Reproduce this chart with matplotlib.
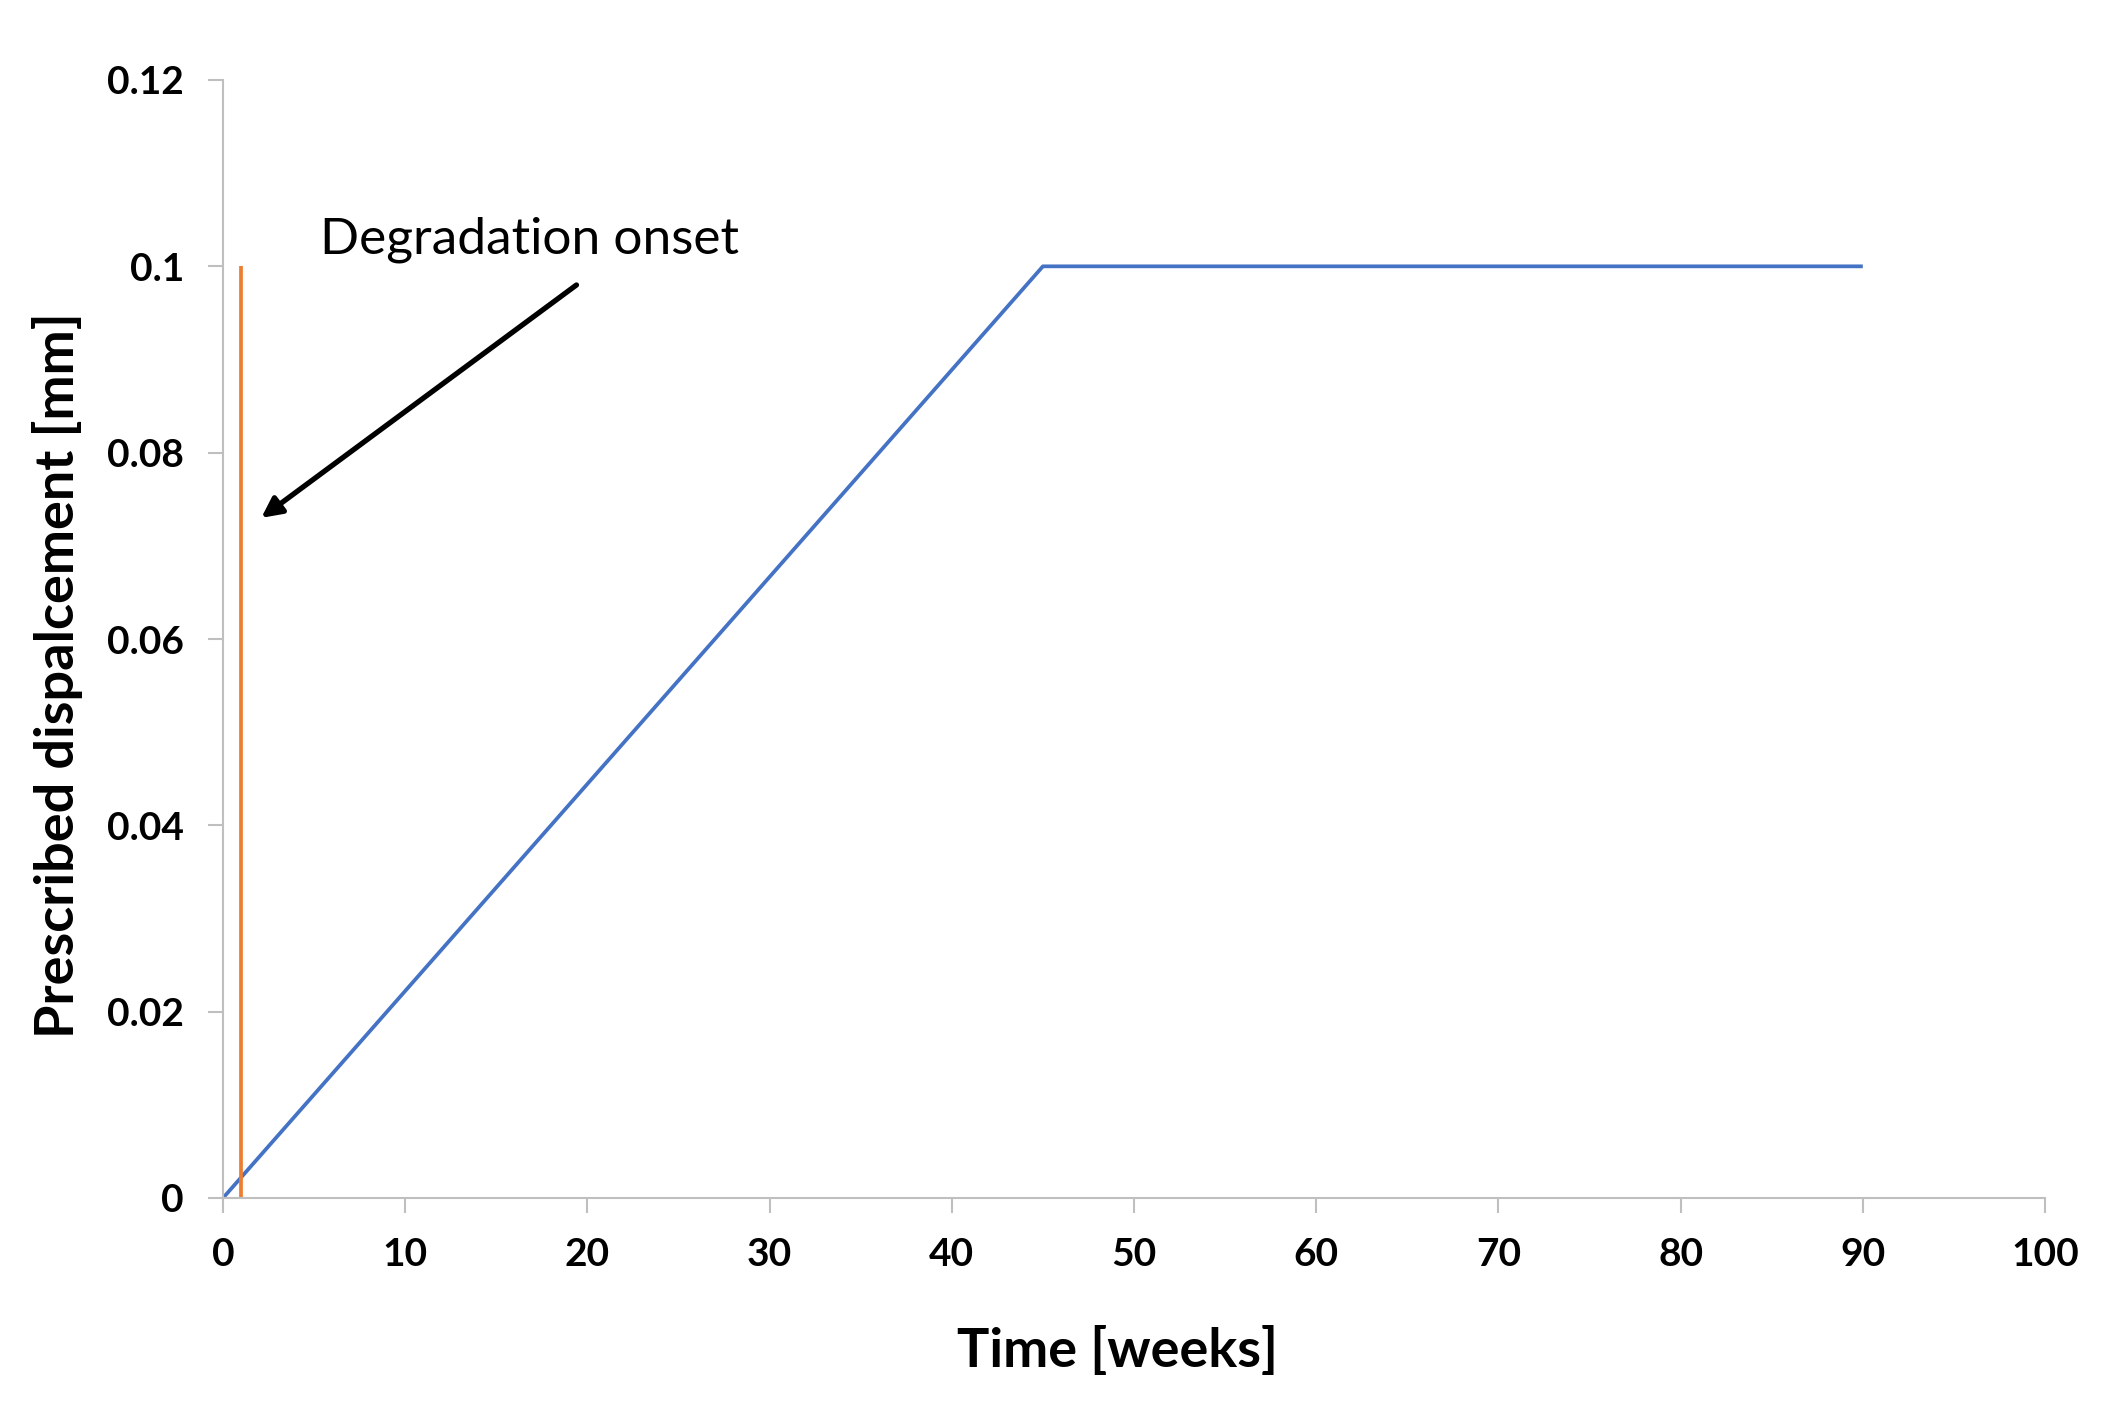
import matplotlib.pyplot as plt
import numpy as np

# prescribed displacement ramp
time_weeks = [0, 45, 90]
displacement = [0, 0.1, 0.1]
# degradation onset marker
onset_x = [1, 1]
onset_y = [0, 0.1]

x_ticks = np.arange(0, 101, 10)
y_ticks = [0, 0.02, 0.04, 0.06, 0.08, 0.1, 0.12]
y_tick_labels = ['0', '0.02', '0.04', '0.06', '0.08', '0.1', '0.12']

plt.rcParams['font.family'] = ['Lato', 'DejaVu Sans']

fig = plt.figure(figsize=(21.25, 14.11), dpi=100)
ax = fig.add_axes([223 / 2125, 1 - 1198 / 1411, 1822 / 2125, 1118 / 1411])

ax.plot(time_weeks, displacement, '-', color='#4472C4', linewidth=2.7, solid_capstyle='butt')
ax.plot(onset_x, onset_y, '-', color='#ED7D31', linewidth=2.7, solid_capstyle='butt')

ax.annotate('', xy=(2.1, 0.073), xytext=(19.4, 0.098),
            arrowprops=dict(arrowstyle='-|>', color='black', lw=3.8,
                            mutation_scale=30, shrinkA=0, shrinkB=0))
ax.text(5.3, 0.1014, 'Degradation onset', fontsize=37, color='black',
        ha='left', va='baseline')

ax.set_xlim(0, 100)
ax.set_ylim(0, 0.12)
ax.set_xticks(x_ticks)
ax.set_yticks(y_ticks)
ax.set_yticklabels(y_tick_labels)

for lab in ax.get_xticklabels() + ax.get_yticklabels():
    lab.set_fontweight('bold')
ax.tick_params(axis='both', labelsize=28, length=11, width=1.5,
               color='#BFBFBF', pad=17)

for side in ['top', 'right']:
    ax.spines[side].set_visible(False)
for side in ['left', 'bottom']:
    ax.spines[side].set_color('#BFBFBF')
    ax.spines[side].set_linewidth(1.5)

ax.set_xlabel('Time [weeks]', fontsize=39, fontweight='bold')
ax.set_ylabel('Prescribed dispalcement [mm]', fontsize=39, fontweight='bold')
ax.xaxis.set_label_coords(0.491, -0.137)
ax.yaxis.set_label_coords(-0.091, 0.468)
ax.xaxis.label.set_va('center')
ax.yaxis.label.set_va('center')

plt.savefig('out.png', dpi=100)
